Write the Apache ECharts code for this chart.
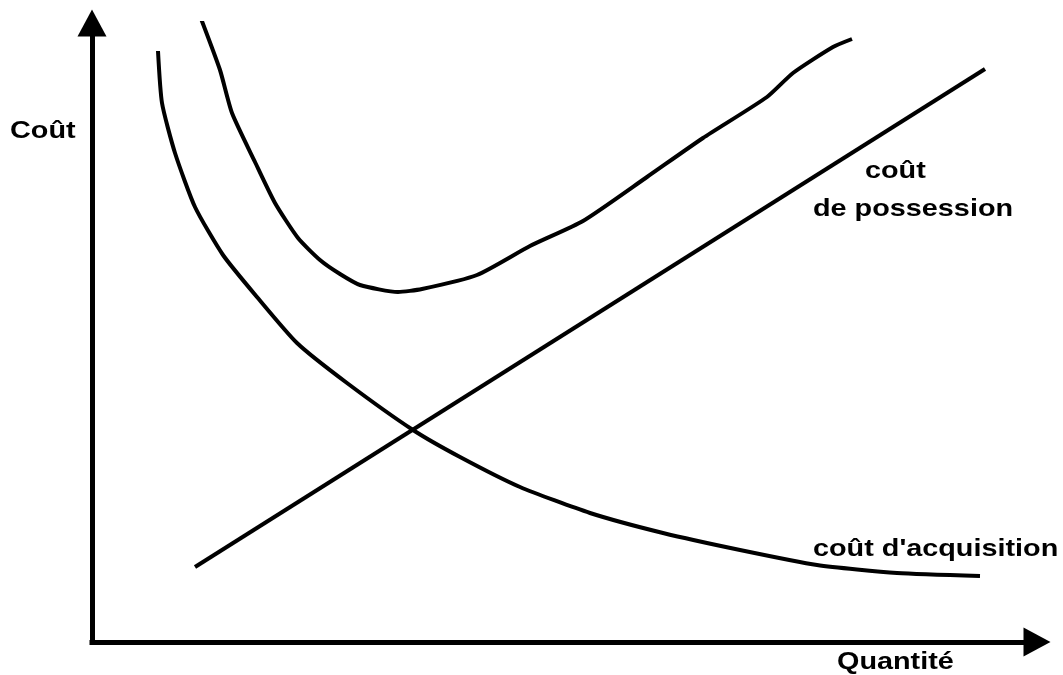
<!DOCTYPE html>
<html>
<head>
<meta charset="utf-8">
<script src="https://cdn.jsdelivr.net/npm/echarts@6/dist/echarts.min.js"></script>
<style>
html,body{margin:0;padding:0;background:#fff;}
#chart{width:1063px;height:675px;}
</style>
</head>
<body>
<div id="chart"></div>
<script>
// Conceptual data (x = quantity units, y = cost units)
const totalX = [108,128,140,163,183,206,228,248,268,306,330,385,438,491,555,611,675,701,741,760];
const totalY = [626,572,529,480,439,404,382,368,357,350,353,367,396,421,465,504,545,569,595,603];

const acquisitionX = [66,70,83,103,131,165,205,255,321,368,428,498,571,648,725,805,888];
const acquisitionY = [591,539,489,435,387,345,299,259,212,185,155,129,109,92,77,69,66];

const possessionX = [103,893];
const possessionY = [75,573];

const axisNameY = 'Coût';
const axisNameX = 'Quantité';
const labelPossession = ['coût', 'de possession'];
const labelAcquisition = 'coût d\'acquisition';

const xMax = 945, yMax = 619;

function pairs(xs, ys){ return xs.map((x,i)=>[x, ys[i]]); }

const chart = echarts.init(document.getElementById('chart'));
const FONT = 'bold 24px "Liberation Sans", Arial, sans-serif';
const SX = 1.2;
function txt(text, left, baseline){
  return {
    type:'text', x:left, y:baseline - 6, scaleX:SX, originX:0, originY:0,
    style:{text:text, font:FONT, fill:'#000', textAlign:'left', textVerticalAlign:'middle', verticalAlign:'middle'},
    silent:true
  };
}
const axisLineCommon = {
  show:true,
  symbol:['none','triangle'],
  symbolSize:[29,27],
  lineStyle:{color:'#000', width:5, cap:'square'}
};
const curveStyle = {color:'#000', width:4, join:'round', cap:'butt'};
chart.setOption({
  animation:false,
  backgroundColor:'#fff',
  grid:{left:92, right:26, top:23, bottom:33, containLabel:false},
  xAxis:{type:'value', min:0, max:xMax, axisLine:axisLineCommon, axisTick:{show:false}, axisLabel:{show:false}, splitLine:{show:false}},
  yAxis:{type:'value', min:0, max:yMax, axisLine:axisLineCommon, axisTick:{show:false}, axisLabel:{show:false}, splitLine:{show:false}},
  series:[
    {name:'coût total', type:'line', data:pairs(totalX,totalY), symbol:'none', smooth:0.2, lineStyle:curveStyle},
    {name:labelAcquisition, type:'line', data:pairs(acquisitionX,acquisitionY), symbol:'none', smooth:0.2, lineStyle:curveStyle},
    {name:'coût de possession', type:'line', data:pairs(possessionX,possessionY), symbol:'none', lineStyle:curveStyle}
  ],
  graphic:[
    txt(axisNameY, 10, 137),
    txt(labelPossession[0], 865, 177),
    txt(labelPossession[1], 813, 215),
    txt(labelAcquisition, 813, 555),
    txt(axisNameX, 837, 668)
  ]
});
</script>
</body>
</html>
